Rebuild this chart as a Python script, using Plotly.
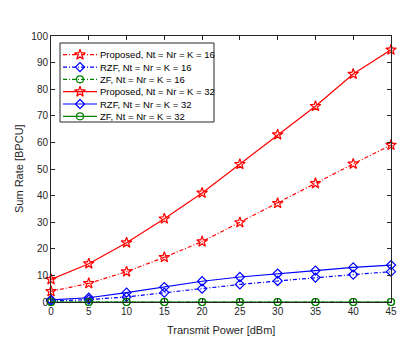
import plotly.graph_objects as go

power_dbm = [0, 5, 10, 15, 20, 25, 30, 35, 40, 45]

proposed_16 = [4.0, 7.0, 11.4, 16.8, 22.7, 29.9, 37.1, 44.6, 51.9, 59.0]
rzf_16 = [0.4, 0.9, 1.9, 3.5, 5.0, 6.6, 7.9, 9.2, 10.3, 11.4]
zf_16 = [0, 0, 0, 0, 0, 0, 0, 0, 0, 0]
proposed_32 = [8.5, 14.4, 22.3, 31.3, 41.0, 51.8, 62.9, 73.6, 85.7, 94.8]
rzf_32 = [0.8, 1.6, 3.5, 5.6, 7.8, 9.4, 10.7, 11.8, 13.0, 13.9]
zf_32 = [0, 0, 0, 0, 0, 0, 0, 0, 0, 0]

DASHDOT = "4px,2px,1px,2px"

series = [
    ("Proposed, Nt = Nr = K = 16", proposed_16, "#ff0000", "star-open", 8, DASHDOT),
    ("RZF, Nt = Nr = K = 16", rzf_16, "#0000ff", "diamond-open", 7, DASHDOT),
    ("ZF, Nt = Nr = K = 16", zf_16, "#008000", "circle-open", 7, DASHDOT),
    ("Proposed, Nt = Nr = K = 32", proposed_32, "#ff0000", "star-open", 8, "solid"),
    ("RZF, Nt = Nr = K = 32", rzf_32, "#0000ff", "diamond-open", 7, "solid"),
    ("ZF, Nt = Nr = K = 32", zf_32, "#008000", "circle-open", 7, "solid"),
]

# the page body has an 8px margin, so the figure sits at (8, 8) in the window
OFF = 8
W, H = 415 - 2 * OFF, 347 - 2 * OFF
# plot area in window pixels
L, R, T, B = 51, 391, 36, 302


def fx(px):
    return (px - L) / (R - L)


def fy(py):
    return (B - py) / (B - T)


fig = go.Figure()
for name, vals, color, symbol, size, dash in series:
    fig.add_trace(
        go.Scatter(
            x=power_dbm,
            y=vals,
            mode="lines+markers",
            name=name,
            line={"color": color, "width": 1.2, "dash": dash},
            marker={"symbol": symbol, "size": size, "color": color,
                    "line": {"width": 1.2, "color": color}},
            cliponaxis=False,
            showlegend=False,
        )
    )

# compact matlab-style legend drawn on an overlay axis
row0, pitch = 54.7, 12.33
for i, (name, vals, color, symbol, size, dash) in enumerate(series):
    yy = fy(row0 + i * pitch)
    fig.add_trace(
        go.Scatter(
            x=[fx(63), fx(80), fx(97)],
            y=[yy, yy, yy],
            xaxis="x2",
            yaxis="y2",
            mode="lines",
            line={"color": color, "width": 1.2, "dash": dash},
            hoverinfo="skip",
            showlegend=False,
        )
    )
    fig.add_trace(
        go.Scatter(
            x=[fx(80)],
            y=[yy],
            xaxis="x2",
            yaxis="y2",
            mode="markers",
            marker={"symbol": symbol, "size": size, "color": color,
                    "line": {"width": 1.2, "color": color}},
            hoverinfo="skip",
            showlegend=False,
        )
    )
    fig.add_annotation(
        x=fx(98), y=yy, xref="x2", yref="y2", text=name, showarrow=False,
        xanchor="left", yanchor="middle",
        font={"size": 9.5, "color": "#000000"},
    )

fig.add_shape(
    type="rect", xref="x2", yref="y2",
    x0=fx(60), x1=fx(214), y0=fy(43), y1=fy(122),
    line={"color": "#262626", "width": 1}, fillcolor="white", layer="below",
)

# axis titles
fig.add_annotation(
    x=0.5, y=0, xref="paper", yref="paper", yshift=-(330 - B),
    text="Transmit Power [dBm]", showarrow=False,
    xanchor="center", yanchor="middle", font={"size": 11, "color": "#262626"},
)
fig.add_annotation(
    x=0, y=0.5, xref="paper", yref="paper", xshift=-(L - 19),
    text="Sum Rate [BPCU]", showarrow=False, textangle=-90,
    xanchor="center", yanchor="middle", font={"size": 11, "color": "#262626"},
)

axis_style = dict(
    showline=True,
    linecolor="#262626",
    linewidth=1,
    mirror="allticks",
    ticks="inside",
    ticklen=4,
    tickcolor="#262626",
    showgrid=False,
    zeroline=False,
    automargin=False,
    tickfont={"size": 10, "color": "#262626"},
)

fig.update_layout(
    width=W,
    height=H,
    margin={"l": L - OFF, "r": W - (R - OFF), "t": T - OFF, "b": H - (B - OFF), "pad": 0},
    paper_bgcolor="white",
    plot_bgcolor="white",
    font={"family": "Liberation Sans, Arial, sans-serif", "size": 10, "color": "#262626"},
    xaxis=dict(axis_style, range=[0, 45], dtick=5),
    yaxis=dict(axis_style, range=[0, 100], dtick=10),
    xaxis2={"overlaying": "x", "range": [0, 1], "visible": False, "fixedrange": True},
    yaxis2={"overlaying": "y", "range": [0, 1], "visible": False, "fixedrange": True},
    showlegend=False,
)

fig.write_html("out.html")
